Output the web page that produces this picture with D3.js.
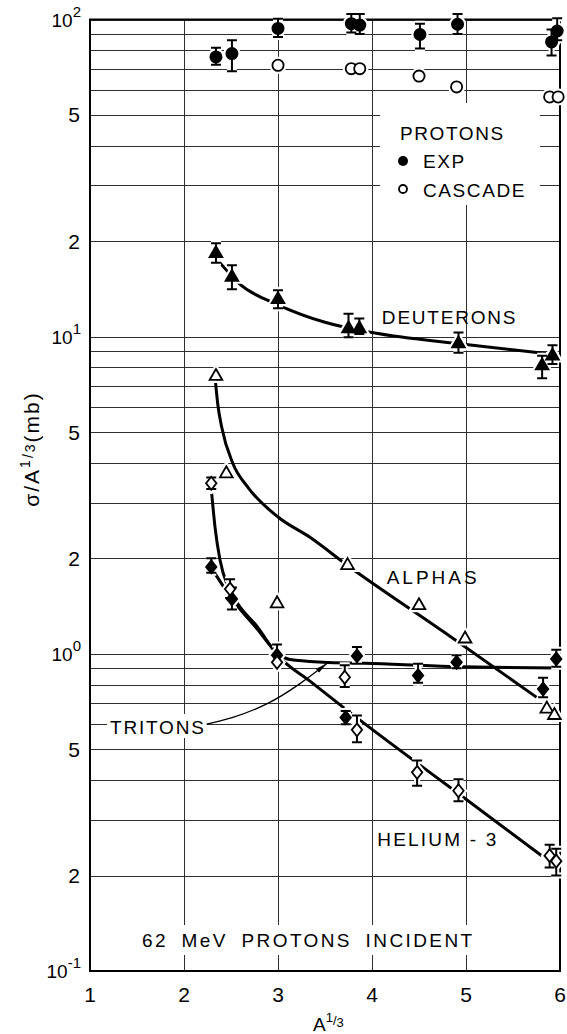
<!DOCTYPE html>
<html>
<head>
<meta charset="utf-8">
<script src="https://cdn.jsdelivr.net/npm/d3@7"></script>
<style>
  html, body { margin: 0; padding: 0; background: #fff; }
  svg { display: block; font-family: "Liberation Sans", Arial, sans-serif; }
</style>
</head>
<body>
<svg id="chart" width="567" height="1034"></svg>
<script>
// Axis ticks
const xTicks = [1, 2, 3, 4, 5, 6];
const yTicks = [0.1, 0.2, 0.5, 1, 2, 5, 10, 20, 50, 100];
const yTickBase = ["10", "2", "5", "10", "2", "5", "10", "2", "5", "10"];
const yTickExp  = ["-1", "", "", "0", "", "", "1", "", "", "2"];

// Protons, experiment (filled circles) with error limits
const protonExpA  = [2.34, 2.51, 3.00, 3.78, 3.87, 4.51, 4.91, 5.91, 5.97];
const protonExp   = [76.2, 78.1, 93.7, 97.0, 96.0, 89.7, 96.6, 85.0, 92.0];
const protonExpLo = [72.0, 68.7, 88.0, 91.0, 90.0, 81.0, 90.0, 77.0, 86.0];
const protonExpHi = [81.5, 86.0, 100.5, 104.0, 104.0, 97.0, 104.0, 93.0, 101.0];

// Protons, cascade calculation (open circles)
const protonCasA = [3.00, 3.78, 3.87, 4.50, 4.90, 5.89, 5.98];
const protonCas  = [71.7, 70.0, 70.0, 66.3, 61.3, 57.0, 57.0];

// Deuterons (filled triangles)
const deutA  = [2.34, 2.51, 3.00, 3.75, 3.865, 4.92, 5.81, 5.92];
const deut   = [18.3, 15.4, 13.1, 10.6, 10.6, 9.5, 8.1, 8.7];
const deutLo = [17.1, 14.1, 12.3, 9.95, 10.2, 8.9, 7.4, 8.2];
const deutHi = [19.7, 16.8, 14.0, 11.8, 11.4, 10.3, 8.7, 9.4];
const deutFitA = [2.36, 2.60, 3.00, 3.50, 4.00, 5.00, 5.85];
const deutFit  = [17.4, 14.6, 12.6, 11.1, 10.3, 9.45, 8.85];

// Alphas (open triangles)
const alphaA = [2.34, 2.45, 2.99, 3.74, 4.50, 4.99, 5.86, 5.94];
const alpha  = [7.5, 3.7, 1.44, 1.90, 1.42, 1.115, 0.67, 0.64];
const alphaFitA = [2.335, 2.36, 2.40, 2.52, 2.68, 3.00, 3.34, 3.74, 4.75, 5.75];
const alphaFit  = [7.2, 6.1, 5.2, 3.98, 3.35, 2.70, 2.33, 1.90, 1.18, 0.73];

// Tritons (filled diamonds)
const tritonA  = [2.29, 2.51, 2.99, 3.72, 3.84, 4.49, 4.90, 5.82, 5.96];
const triton   = [1.88, 1.49, 0.99, 0.63, 0.985, 0.854, 0.941, 0.775, 0.964];
const tritonLo = [1.80, 1.38, 0.94, 0.60, 0.93, 0.81, 0.90, 0.73, 0.91];
const tritonHi = [2.00, 1.62, 1.07, 0.66, 1.05, 0.93, 0.99, 0.84, 1.03];
const tritonFitA = [2.295, 2.507, 2.777, 2.989, 3.128, 3.479, 3.926, 4.83, 6.0];
const tritonFit  = [1.86, 1.494, 1.20, 1.01, 0.959, 0.941, 0.934, 0.912, 0.903];

// Helium-3 (open diamonds)
const he3A  = [2.29, 2.49, 2.99, 3.71, 3.84, 4.48, 4.92, 5.89, 5.96];
const he3   = [3.45, 1.60, 0.94, 0.844, 0.576, 0.423, 0.370, 0.231, 0.222];
const he3Lo = [3.31, 1.50, 0.94, 0.786, 0.526, 0.384, 0.343, 0.212, 0.200];
const he3Hi = [3.60, 1.72, 0.94, 0.920, 0.639, 0.461, 0.402, 0.250, 0.243];
const he3FitA = [2.295, 2.33, 2.383, 2.471, 2.578, 2.777, 2.989, 3.34, 3.695, 4.26, 4.89, 5.805];
const he3Fit  = [3.20, 2.51, 1.975, 1.62, 1.43, 1.22, 0.995, 0.82, 0.678, 0.506, 0.368, 0.231];

// Leader from the TRITONS label to its curve
const leaderA = [2.24, 2.52, 2.88, 3.23, 3.52];
const leaderV = [0.600, 0.631, 0.695, 0.804, 0.932];

const svg = d3.select("#chart");
const x = d3.scaleLinear().domain([1, 6]).range([90, 560]);
const y = d3.scaleLog().domain([0.1, 100]).range([971, 19.5]);

// ---- grid ----
const grid = svg.append("g").attr("stroke", "#2e2e2e").attr("stroke-width", 1);
grid.selectAll("line.h").data(y.ticks()).join("line").attr("class", "h")
  .attr("x1", x(1)).attr("x2", x(6))
  .attr("y1", d => Math.round(y(d)) + 0.5).attr("y2", d => Math.round(y(d)) + 0.5);
grid.selectAll("line.v").data(xTicks.slice(1, -1)).join("line").attr("class", "v")
  .attr("x1", d => Math.round(x(d)) + 0.5).attr("x2", d => Math.round(x(d)) + 0.5)
  .attr("y1", y(100)).attr("y2", y(0.1));

// white panels under the labels that interrupt the grid
const panels = svg.append("g").attr("fill", "#fff");
panels.append("rect").attr("x", 380).attr("y", 103).attr("width", 160).attr("height", 102);
panels.append("rect").attr("x", 107).attr("y", 714).attr("width", 100).attr("height", 24);
panels.append("rect").attr("x", 136).attr("y", 925).attr("width", 344).attr("height", 30);

// ---- frame ----
svg.append("rect")
  .attr("x", x(1)).attr("y", y(100))
  .attr("width", x(6) - x(1)).attr("height", y(0.1) - y(100))
  .attr("fill", "none").attr("stroke", "#000").attr("stroke-width", 2);

// ---- fitted curves ----
const curve = d3.line().x(d => x(d[0])).y(d => y(d[1])).curve(d3.curveMonotoneX);
const curves = svg.append("g").attr("fill", "none").attr("stroke", "#000")
  .attr("stroke-width", 3).attr("stroke-linecap", "butt");
[[deutFitA, deutFit], [alphaFitA, alphaFit], [tritonFitA, tritonFit], [he3FitA, he3Fit]]
  .forEach(([a, v]) => curves.append("path").attr("d", curve(d3.zip(a, v))));

// ---- leader arrow ----
const defs = svg.append("defs");
defs.append("marker").attr("id", "arrow")
  .attr("viewBox", "0 -3 12 6").attr("refX", 12).attr("refY", 0)
  .attr("markerWidth", 12).attr("markerHeight", 6).attr("markerUnits", "userSpaceOnUse")
  .attr("orient", "auto")
  .append("path").attr("d", "M0,-2.5L12,0L0,2.5Z").attr("fill", "#000");
svg.append("path")
  .attr("d", d3.line().x(d => x(d[0])).y(d => y(d[1])).curve(d3.curveNatural)(d3.zip(leaderA, leaderV)))
  .attr("fill", "none").attr("stroke", "#000").attr("stroke-width", 1.3)
  .attr("marker-end", "url(#arrow)");

// ---- markers ----
const diamondShape = {
  draw(ctx, size) {
    const h = Math.sqrt(size) / 2, w = h * 0.8;
    ctx.moveTo(0, -h); ctx.lineTo(w, 0); ctx.lineTo(0, h); ctx.lineTo(-w, 0); ctx.closePath();
  }
};
const circleSym = d3.symbol(d3.symbolCircle, Math.PI * 5.6 * 5.6);
const triSym = d3.symbol(d3.symbolTriangle, 70);
const diaSym = d3.symbol(diamondShape, 169);

const sets = [
  { A: protonExpA, v: protonExp, lo: protonExpLo, hi: protonExpHi, sym: circleSym, filled: true },
  { A: protonCasA, v: protonCas, sym: circleSym, filled: false },
  { A: deutA, v: deut, lo: deutLo, hi: deutHi, sym: triSym, filled: true },
  { A: alphaA, v: alpha, sym: triSym, filled: false },
  { A: tritonA, v: triton, lo: tritonLo, hi: tritonHi, sym: diaSym, filled: true },
  { A: he3A, v: he3, lo: he3Lo, hi: he3Hi, sym: diaSym, filled: false }
];

function barPath(a, lo, hi) {
  const p = d3.path(), cx = x(a), y0 = y(lo), y1 = y(hi), c = 5;
  p.moveTo(cx, y0); p.lineTo(cx, y1);
  p.moveTo(cx - c, y1); p.lineTo(cx + c, y1);
  p.moveTo(cx - c, y0); p.lineTo(cx + c, y0);
  return p.toString();
}

function drawSets(g, halo) {
  sets.forEach(s => {
    const pts = s.A.map((a, i) => ({ a, v: s.v[i], lo: s.lo ? s.lo[i] : null, hi: s.hi ? s.hi[i] : null }));
    g.append("g").selectAll("path").data(pts.filter(d => d.lo !== null && d.hi > d.lo)).join("path")
      .attr("d", d => barPath(d.a, d.lo, d.hi))
      .attr("fill", "none")
      .attr("stroke", halo ? "#fff" : "#000")
      .attr("stroke-width", halo ? 6 : 2);
    g.append("g").selectAll("path").data(pts).join("path")
      .attr("transform", d => `translate(${x(d.a)},${y(d.v)})`)
      .attr("d", s.sym)
      .attr("fill", halo ? "#fff" : (s.filled ? "#000" : "#fff"))
      .attr("stroke", halo ? "#fff" : "#000")
      .attr("stroke-width", halo ? 6 : 1.8);
  });
}
drawSets(svg.append("g"), true);
drawSets(svg.append("g"), false);

// ---- tick labels ----
const xl = svg.append("g").attr("font-size", 21).attr("text-anchor", "middle").attr("fill", "#000");
xl.selectAll("text").data(xTicks).join("text")
  .attr("x", d => x(d)).attr("y", 1002).text(d => d);

const yl = svg.append("g").attr("text-anchor", "end").attr("fill", "#000");
yTicks.forEach((v, i) => {
  if (yTickExp[i] !== "") {
    const t = yl.append("text").attr("x", 81).attr("y", y(v) + 7).attr("font-size", 19);
    t.append("tspan").text(yTickBase[i]);
    t.append("tspan").attr("dy", -10).attr("font-size", 15).text(yTickExp[i]);
  } else {
    yl.append("text").attr("x", 80).attr("y", y(v) + 7.5).attr("font-size", 21).text(yTickBase[i]);
  }
});

// ---- axis titles ----
const xt = svg.append("text").attr("x", 313).attr("y", 1031).attr("font-size", 19).attr("fill", "#000");
xt.append("tspan").text("A");
xt.append("tspan").attr("font-size", 13).attr("dy", -9).text("1");
xt.append("tspan").attr("font-size", 13).attr("dy", 3).text("/");
xt.append("tspan").attr("font-size", 13).attr("dy", 2).text("3");

const yt = svg.append("text").attr("transform", "translate(39,449) rotate(-90)")
  .attr("text-anchor", "middle").attr("font-size", 21).attr("fill", "#000").attr("letter-spacing", 2);
yt.append("tspan").text("σ");
yt.append("tspan").text("/");
yt.append("tspan").text("A");
yt.append("tspan").attr("font-size", 14).attr("dy", -9).text("1");
yt.append("tspan").attr("font-size", 14).attr("dy", 3).text("/");
yt.append("tspan").attr("font-size", 14).attr("dy", 2).text("3");
yt.append("tspan").attr("dy", 4).text("(mb)");

// ---- series labels ----
const lab = svg.append("g").attr("font-size", 19).attr("fill", "#000").attr("letter-spacing", 1.8);
lab.append("text").attr("x", x(4.105)).attr("y", y(11.0)).text("DEUTERONS");
lab.append("text").attr("x", x(4.156)).attr("y", y(1.66)).attr("letter-spacing", 3).text("ALPHAS");
lab.append("text").attr("x", x(1.213)).attr("y", y(0.559)).text("TRITONS");
lab.append("text").attr("x", x(4.056)).attr("y", y(0.2485)).attr("letter-spacing", 2.2).text("HELIUM - 3");
lab.append("text").attr("x", x(1.553)).attr("y", y(0.1187)).attr("letter-spacing", 2.4)
  .attr("word-spacing", 6).text("62 MeV PROTONS INCIDENT");

// ---- legend ----
const lg = svg.append("g").attr("fill", "#000").attr("font-size", 19).attr("letter-spacing", 1.6);
lg.append("text").attr("x", 400).attr("y", 140).text("PROTONS");
lg.append("circle").attr("cx", 403).attr("cy", 161).attr("r", 5);
lg.append("text").attr("x", 423).attr("y", 168).text("EXP");
lg.append("circle").attr("cx", 403).attr("cy", 189).attr("r", 4).attr("fill", "#fff")
  .attr("stroke", "#000").attr("stroke-width", 1.8);
lg.append("text").attr("x", 423).attr("y", 197).text("CASCADE");
</script>
</body>
</html>
